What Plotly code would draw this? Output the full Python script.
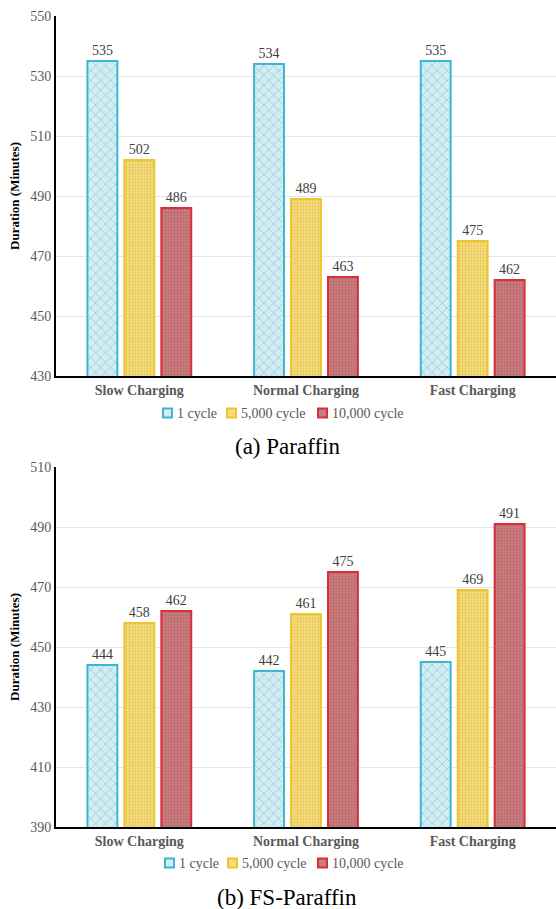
import plotly.graph_objects as go

categories = ["Slow Charging", "Normal Charging", "Fast Charging"]
series_names = ["1 cycle", "5,000 cycle", "10,000 cycle"]
paraffin_1 = [535, 534, 535]
paraffin_5000 = [502, 489, 475]
paraffin_10000 = [486, 463, 462]
fs_1 = [444, 442, 445]
fs_5000 = [458, 461, 469]
fs_10000 = [462, 475, 491]
y_ticks_a = [430, 450, 470, 490, 510, 530, 550]
y_ticks_b = [390, 410, 430, 450, 470, 490, 510]
panel_titles = ["(a) Paraffin", "(b) FS-Paraffin"]

FONT = "Liberation Serif"

styles = [
    dict(bg="#D3EDF2", fg="#9FD3DE", line="#3DB6D2", shape="x", size=7, solidity=0.25),
    dict(bg="#F5DC7E", fg="#E3C24E", line="#EDC431", shape=".", size=3, solidity=0.3),
    dict(bg="#C97C7E", fg="#B56567", line="#D8303A", shape=".", size=3, solidity=0.3),
]

fig = go.Figure()

def add_bars(values_list, xaxis, yaxis):
    for name, vals, st in zip(series_names, values_list, styles):
        fig.add_trace(go.Bar(
            x=categories, y=vals, name=name,
            xaxis=xaxis, yaxis=yaxis, showlegend=False,
            marker=dict(
                color=st["bg"],
                line=dict(color=st["line"], width=2),
                pattern=dict(shape=st["shape"], fgcolor=st["fg"], bgcolor=st["bg"],
                             size=st["size"], solidity=st["solidity"]),
            ),
            text=[str(v) for v in vals], textposition="outside",
            textfont=dict(family=FONT, size=14, color="#404040"),
            cliponaxis=False,
        ))

add_bars([paraffin_1, paraffin_5000, paraffin_10000], "x", "y")
add_bars([fs_1, fs_5000, fs_10000], "x2", "y2")

H = 909.0
W = 556.0
xdom = [56 / W, 1.0]
ydom_a = [(H - 376) / H, (H - 16) / H]
ydom_b = [(H - 827) / H, (H - 467) / H]

axis_common_x = dict(
    showline=True, linecolor="black", linewidth=2, ticks="",
    tickfont=dict(family=FONT, size=14, color="#595959"),
    tickvals=categories, ticktext=["<b>" + c + "</b>" for c in categories],
    showgrid=False, fixedrange=True,
)
axis_common_y = dict(
    showline=True, linecolor="black", linewidth=2, ticks="",
    tickfont=dict(family=FONT, size=14, color="#595959"),
    showgrid=True, gridcolor="#E6E6E6", gridwidth=1, zeroline=False,
    title=dict(text="<b>Duration (Minutes)</b>", font=dict(family=FONT, size=13, color="black"), standoff=8),
)

# custom legends (pixel positions of each legend row)
shapes = []
annotations = []
legend_rows = [(413, [163, 227, 318]), (863, [165, 228, 318])]
SQ = 9
for ycen, xs in legend_rows:
    for name, st, x0 in zip(series_names, styles, xs):
        shapes.append(dict(type="rect", xref="paper", yref="paper",
                           x0=x0 / W, x1=(x0 + SQ) / W,
                           y0=(H - ycen - SQ / 2) / H, y1=(H - ycen + SQ / 2) / H,
                           fillcolor=st["bg"], line=dict(color=st["line"], width=2)))
        annotations.append(dict(text=name, x=(x0 + SQ + 3) / W, y=(H - ycen) / H,
                                xref="paper", yref="paper", showarrow=False,
                                xanchor="left", yanchor="middle",
                                font=dict(family=FONT, size=14, color="#595959")))

for title, ycen in zip(panel_titles, [446, 897]):
    annotations.append(dict(text=title, x=287 / W, y=(H - ycen) / H, xref="paper", yref="paper",
                            showarrow=False, xanchor="center", yanchor="middle",
                            font=dict(family=FONT, size=23, color="black")))

fig.update_layout(
    template="none",
    width=556, height=909,
    margin=dict(l=0, r=0, t=0, b=0),
    paper_bgcolor="white", plot_bgcolor="white",
    barmode="group", bargap=0.335, bargroupgap=0.19,
    font=dict(family=FONT, color="#404040"),
    showlegend=False,
    xaxis=dict(domain=xdom, anchor="y", **axis_common_x),
    yaxis=dict(domain=ydom_a, anchor="x", range=[430, 550], tickvals=y_ticks_a, **axis_common_y),
    xaxis2=dict(domain=xdom, anchor="y2", **axis_common_x),
    yaxis2=dict(domain=ydom_b, anchor="x2", range=[390, 510], tickvals=y_ticks_b, **axis_common_y),
    shapes=shapes,
    annotations=annotations,
)

fig.write_html("out.html")
